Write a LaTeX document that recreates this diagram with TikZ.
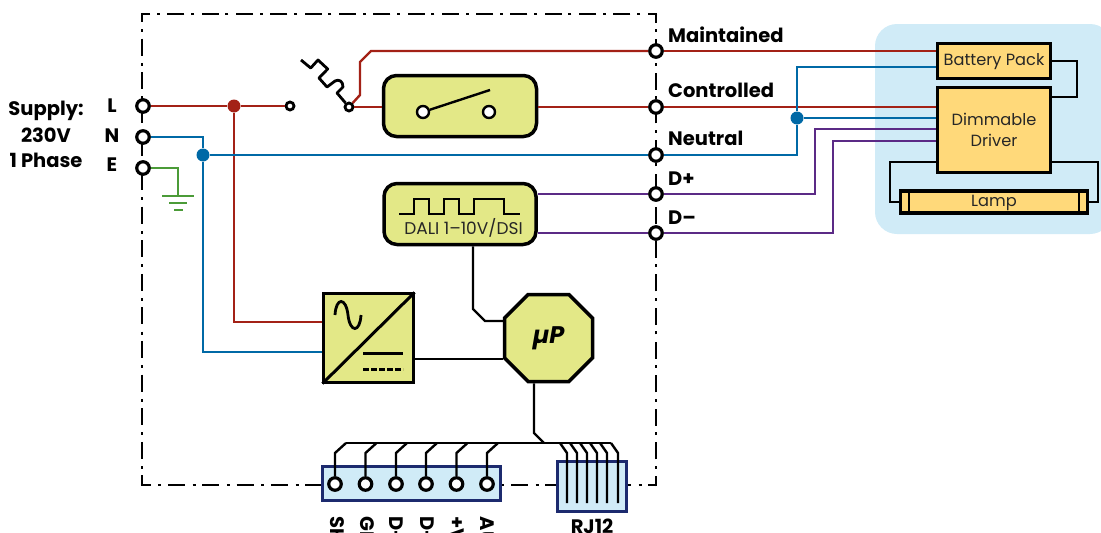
\documentclass[tikz,border=0pt]{standalone}
\usepackage{fontspec}
\setmainfont{Poppins}
\usetikzlibrary{shapes.misc}
\definecolor{boxgreen}{HTML}{E3E887}
\definecolor{boxorange}{HTML}{FFD97A}
\definecolor{palesky}{HTML}{D0EBF7}
\definecolor{navyedge}{HTML}{1C2A6E}
\definecolor{livered}{HTML}{A32116}
\definecolor{neutralblue}{HTML}{0069A6}
\definecolor{earthgreen}{HTML}{4B9B38}
\definecolor{dimpurple}{HTML}{5B2A86}
\tikzset{
    terminal/.style={circle, draw=black, fill=white, line width=3.2pt, minimum size=12.5pt, inner sep=0pt},
    smallterm/.style={terminal, line width=2.8pt, minimum size=8pt},
    dotred/.style={circle, fill=livered, minimum size=13pt, inner sep=0pt},
    dotblue/.style={circle, fill=neutralblue, minimum size=13pt, inner sep=0pt},
    greenbox/.style={draw=black, fill=boxgreen, line width=3.5pt, rounded corners=13pt, inner sep=0pt},
    orangebox/.style={draw=black, fill=boxorange, line width=3.5pt, inner sep=0pt},
    skybox/.style={draw=navyedge, fill=palesky, line width=3pt, inner sep=0pt},
    wirered/.style={draw=livered, line width=2.4pt},
    wireblue/.style={draw=neutralblue, line width=2.4pt},
    wiregreen/.style={draw=earthgreen, line width=2.4pt},
    wirepurple/.style={draw=dimpurple, line width=2.4pt},
    wire/.style={draw=black, line width=2.4pt},
    enclh/.style={line width=2.5pt, dash pattern=on 17pt off 7.6pt on 3pt off 6.7pt},
    enclv/.style={line width=2.5pt, dash pattern=on 17pt off 7.3pt on 3pt off 6.3pt},
    heading/.style={font=\fontsize{19.5}{20}\selectfont\bfseries, inner sep=0pt},
    boxtext/.style={font=\fontsize{16.2}{21}\selectfont, inner sep=0pt, text=black!85}
}
\begin{document}
\begin{tikzpicture}[x=1pt, y=-1pt]
    \useasboundingbox (0,0) rectangle (1101,533);
    \clip (0,0) rectangle (1101,533);
    % Luminaire background
    \fill[palesky, rounded corners=22pt] (875,24) rectangle (1112,234);
    % Enclosure
    \draw[enclh, dash phase=7.4pt] (657.25,14) -- (140.75,14);
    \draw[enclv, dash phase=7.8pt] (142,12.75) -- (142,486.25);
    \draw[enclh, dash phase=7pt] (140.75,485) -- (657.25,485);
    \draw[enclv, dash phase=6.8pt] (656,486.25) -- (656,12.75);
    % Boxes
    \node[greenbox, minimum width=153pt, minimum height=61pt] (switchbox) at (460,106) {};
    \node[greenbox, minimum width=152pt, minimum height=61pt] (dalibox) at (460,214) {};
    \node[orangebox, minimum width=113pt, minimum height=35pt] (batterybox) at (994,61) {};
    \node[orangebox, minimum width=113pt, minimum height=85pt] (driverbox) at (994,130) {};
    \node[orangebox, minimum width=187pt, minimum height=22pt] (lampbox) at (994,202) {};
    \node[boxtext] at (994,62) {Battery Pack};
    \node[boxtext, align=center] at (994,129.5) {Dimmable\\Driver};
    \node[boxtext] at (994,203) {Lamp};
    \node[draw=black, fill=boxgreen, line width=3.5pt, minimum width=90pt, minimum height=89pt, inner sep=0pt] (psubox) at (368.5,338) {};
    \node[draw=black, fill=boxgreen, line width=3.5pt, chamfered rectangle, chamfered rectangle xsep=12pt, chamfered rectangle ysep=12pt, chamfered rectangle angle=45, minimum width=88pt, minimum height=87pt, inner sep=0pt, font=\fontsize{24}{24}\selectfont\bfseries\itshape] (mcubox) at (548.5,338) {µP};
    \node[skybox, minimum width=178pt, minimum height=34pt] (connbox) at (411.5,483.5) {};
    \node[skybox, minimum width=69pt, minimum height=50pt] (rjbox) at (592,486.5) {};
    % Terminals
    \foreach \name/\y in {termL/106,termN/137,termE/168}
        \node[terminal] (\name) at (143,\y) {};
    \foreach \name/\y in {termM/51,termC/107,termO/155,termP/194,termD/233}
        \node[terminal] (\name) at (656,\y) {};
    \node[smallterm] (stopL) at (290,106) {};
    \node[smallterm] (stopT) at (349,107) {};
    \node[dotred] (jointL) at (234,106) {};
    \node[dotblue] (jointN) at (203,155) {};
    \node[dotblue] (jointD) at (797,118) {};
    % Mains wiring
    \draw[wirered] (termL) -- (jointL) -- (stopL);
    \draw[wirered] (jointL) |- (psubox.west |- 0,322);
    \draw[wirered] (stopT) -- (switchbox.west |- stopT);
    \draw[wirered] (stopT) -- (360,95) -- (360,62) -- (371,51) -- (termM);
    \draw[wirered] (termM) -- (batterybox.west |- termM);
    \draw[wirered] (switchbox.east |- termC) -- (termC) -- (driverbox.west |- termC);
    \draw[wireblue] (termN) -| (jointN) |- (psubox.west |- 0,352);
    \draw[wireblue] (jointN) -- (termO) -- (797,155) -- (jointD) -- (797,67) -- (batterybox.west |- 0,67);
    \draw[wireblue] (jointD) -- (driverbox.west |- jointD);
    \draw[wiregreen] (termE) -| (178,196);
    \draw[wiregreen] (162,196) -- (194,196) (169,203) -- (187,203) (174,210) -- (183,210);
    % Dimming wiring
    \draw[wirepurple] (dalibox.east |- termP) -- (termP) -- (815,194) -- (815,129) -- (driverbox.west |- 0,129);
    \draw[wirepurple] (dalibox.east |- termD) -- (termD) -- (833,233) -- (833,141) -- (driverbox.west |- 0,141);
    % Luminaire wiring
    \draw[wire] (batterybox.east) -- (1077,61) -- (1077,97) -- (driverbox.east |- 0,97);
    \draw[wire] (driverbox.west |- 0,162) -- (890,162) -- (890,202) -- (lampbox.west);
    \draw[wire] (driverbox.east |- 0,162) -- (1098,162) -- (1098,202) -- (lampbox.east);
    \draw[line width=2.5pt] (909,190) -- (909,213) (1079,190) -- (1079,213);
    % Thermal fuse
    \draw[line width=2.8pt, line join=round] (301,60) -- (310.7,68) -- (318,60) -- (327.7,69) -- (319,78) -- (327,87) -- (335,81)
        .. controls (339,79) and (343,81) .. (343,87) -- (337,93) -- (stopT);
    % Switch symbol
    \node[terminal, line width=2.4pt, minimum size=12pt] (swA) at (423,112) {};
    \node[terminal, line width=2.4pt, minimum size=12pt] (swB) at (489,112) {};
    \draw[line width=2.4pt] (swA) -- (490,90);
    % Dali symbol
    \draw[line width=2.4pt] (399,214) -- (414,214) -- (414,199) -- (429,199) -- (429,214) -- (444,214) -- (444,199) -- (459,199) -- (459,214) -- (474,214) -- (474,199) -- (504,199) -- (504,214) -- (520,214);
    \node[font=\fontsize{17}{17}\selectfont, inner sep=0pt, text=black!85] at (463.5,228) {DALI 1--10V/DSI};
    % Converter symbol
    \draw[line width=3pt, shorten <=1pt, shorten >=1pt] (psubox.south west) -- (psubox.north east);
    \draw[line width=2.8pt] (335,315) .. controls (336,297) and (346,297) .. (348,315) .. controls (350,333) and (360,333) .. (361,315);
    \draw[line width=3pt] (363,353) -- (403,353);
    \draw[line width=3pt, dash pattern=on 5.5pt off 2.5pt] (363,369) -- (403,369);
    % Control wiring
    \draw[wire] (dalibox.south -| 473,0) -- (473,309) -- (485,321) -- (mcubox.west |- 0,321);
    \draw[wire] (psubox.east |- 0,359) -- (mcubox.west |- 0,359);
    \draw[wire] (mcubox.south -| 534,0) -- (534,433) -- (544,443);
    \draw[wire] (346,443) -- (611,443);
    % Connector terminals
    \foreach \i/\x in {1/335,2/365.5,3/396,4/426,5/456.5,6/487} {
        \node[terminal] (pin\i) at (\x,484) {};
        \draw[wire] (pin\i) -- (\x,453) -- (\x+11,443);
    }
    % RJ12 pins
    \foreach \x in {567,577,587,597,607,618}
        \draw[wire] (\x-7,443) -- (\x,453) -- (\x,503);
    % Labels
    \node[heading] at (112,106) {L};
    \node[heading] at (112,136) {N};
    \node[heading] at (112,165) {E};
    \node[heading] at (46,110.5) {Supply:};
    \node[heading] at (46,135.5) {230V};
    \node[heading] at (46,160) {1 Phase};
    \foreach \y/\name in {35/Maintained,90/Controlled,138/Neutral,179/D+,218/D--}
        \node[heading, anchor=west] at (668,\y) {\name};
    \node[heading] at (592,526.5) {RJ12};
    \foreach \x/\name in {337/SH,367/GI,396.5/D-,427/D-,457/+V,487.5/AU}
        \node[heading, rotate=-90, anchor=west] at (\x,516.5) {\name};
\end{tikzpicture}
\end{document}
